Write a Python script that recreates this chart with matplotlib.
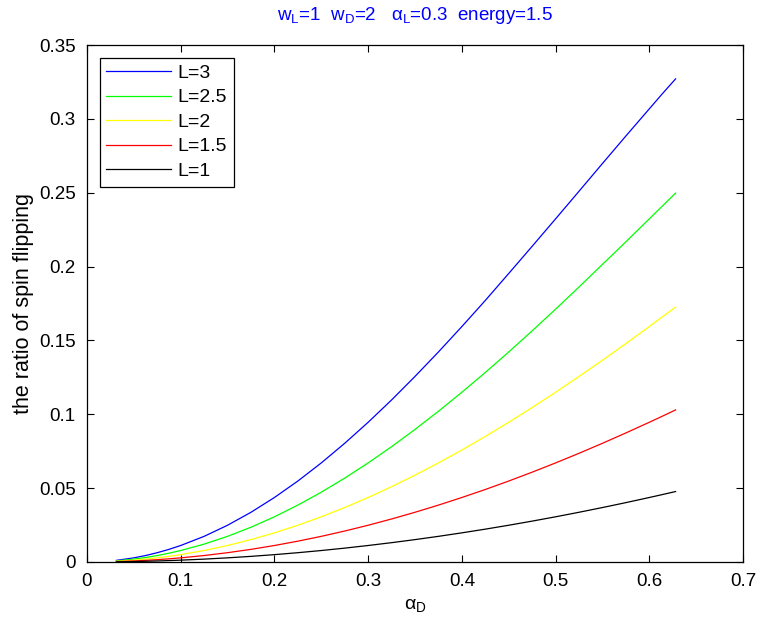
import matplotlib
matplotlib.use("Agg")
import matplotlib.pyplot as plt

plt.rcParams['font.family'] = ['Liberation Sans', 'DejaVu Sans']
plt.rcParams['mathtext.fontset'] = 'custom'
plt.rcParams['mathtext.rm'] = 'Liberation Sans'
plt.rcParams['mathtext.it'] = 'Liberation Sans'
plt.rcParams['mathtext.default'] = 'regular'

# alpha_D sample points
alpha_d = [0.0314, 0.05, 0.0625, 0.075, 0.0875, 0.1, 0.125, 0.15, 0.175, 0.2,
           0.225, 0.25, 0.275, 0.3, 0.325, 0.35, 0.375, 0.4, 0.425, 0.45,
           0.475, 0.5, 0.525, 0.55, 0.575, 0.6, 0.6125, 0.628]

# spin-flip ratio for each length L
ratio_L3 = [0.00111, 0.00281, 0.00438, 0.00630, 0.00856, 0.01117, 0.01737, 0.02489,
            0.03367, 0.04367, 0.05482, 0.06708, 0.08037, 0.09460, 0.10970, 0.12564,
            0.14220, 0.15941, 0.17707, 0.19534, 0.21374, 0.23232, 0.25101, 0.26979,
            0.28842, 0.30680, 0.31600, 0.32705]
ratio_L25 = [0.00077, 0.00195, 0.00305, 0.00438, 0.00596, 0.00777, 0.01211, 0.01737,
             0.02355, 0.03060, 0.03852, 0.04726, 0.05679, 0.06708, 0.07808, 0.08976,
             0.10205, 0.11492, 0.12833, 0.14220, 0.15651, 0.17117, 0.18619, 0.20149,
             0.21679, 0.23232, 0.24010, 0.24975]
ratio_L2 = [0.00049, 0.00125, 0.00195, 0.00281, 0.00382, 0.00498, 0.00777, 0.01117,
            0.01516, 0.01974, 0.02489, 0.03060, 0.03687, 0.04367, 0.05098, 0.05879,
            0.06708, 0.07582, 0.08500, 0.09460, 0.10458, 0.11492, 0.12564, 0.13660,
            0.14788, 0.15941, 0.16531, 0.17260]
ratio_L15 = [0.00028, 0.00070, 0.00110, 0.00158, 0.00215, 0.00281, 0.00438, 0.00630,
             0.00856, 0.01117, 0.01410, 0.01737, 0.02097, 0.02489, 0.02913, 0.03367,
             0.03852, 0.04367, 0.04910, 0.05482, 0.06082, 0.06708, 0.07360, 0.08037,
             0.08738, 0.09460, 0.09829, 0.10295]
ratio_L1 = [0.00012, 0.00031, 0.00049, 0.00070, 0.00096, 0.00125, 0.00195, 0.00281,
            0.00382, 0.00498, 0.00630, 0.00777, 0.00939, 0.01117, 0.01309, 0.01516,
            0.01737, 0.01974, 0.02224, 0.02489, 0.02768, 0.03060, 0.03367, 0.03687,
            0.04020, 0.04367, 0.04545, 0.04770]

series = [
    ("L=3", ratio_L3, (0, 0, 1)),
    ("L=2.5", ratio_L25, (0, 1, 0)),
    ("L=2", ratio_L2, (1, 1, 0)),
    ("L=1.5", ratio_L15, (1, 0, 0)),
    ("L=1", ratio_L1, (0, 0, 0)),
]

x_ticks = [0, 0.1, 0.2, 0.3, 0.4, 0.5, 0.6, 0.7]
x_tick_labels = ["0", "0.1", "0.2", "0.3", "0.4", "0.5", "0.6", "0.7"]
y_ticks = [0, 0.05, 0.1, 0.15, 0.2, 0.25, 0.3, 0.35]
y_tick_labels = ["0", "0.05", "0.1", "0.15", "0.2", "0.25", "0.3", "0.35"]

fig = plt.figure(figsize=(7.59, 6.25), dpi=100)
ax = fig.add_axes([0.1146, 0.1008, 0.8644, 0.8272])

for label, vals, color in series:
    ax.plot(alpha_d, vals, color=color, lw=0.9, label=label,
            solid_joinstyle='round')

ax.set_xlim(0, 0.7)
ax.set_ylim(0, 0.35)
ax.set_xticks(x_ticks)
ax.set_xticklabels(x_tick_labels)
ax.set_yticks(y_ticks)
ax.set_yticklabels(y_tick_labels)
ax.tick_params(direction='in', top=True, right=True, length=5, width=0.8,
               labelsize=13.5, pad=8)
for sp in ax.spines.values():
    sp.set_linewidth(0.9)

ax.set_xlabel(r"α$_D$", fontsize=14, labelpad=5)
ax.set_ylabel("the ratio of spin flipping", fontsize=15.5, labelpad=4)
ax.set_title(r"w$_L$=1  w$_D$=2   α$_L$=0.3  energy=1.5", color=(0, 0, 1),
             fontsize=13.5, pad=18)

leg = ax.legend(loc='upper left', fontsize=14, fancybox=False,
                edgecolor='black', framealpha=1, handlelength=3.3,
                handletextpad=0.35, borderaxespad=0.65, borderpad=0.35,
                labelspacing=0.35)
leg.get_frame().set_linewidth(0.9)

fig.savefig("out.png", dpi=100)
